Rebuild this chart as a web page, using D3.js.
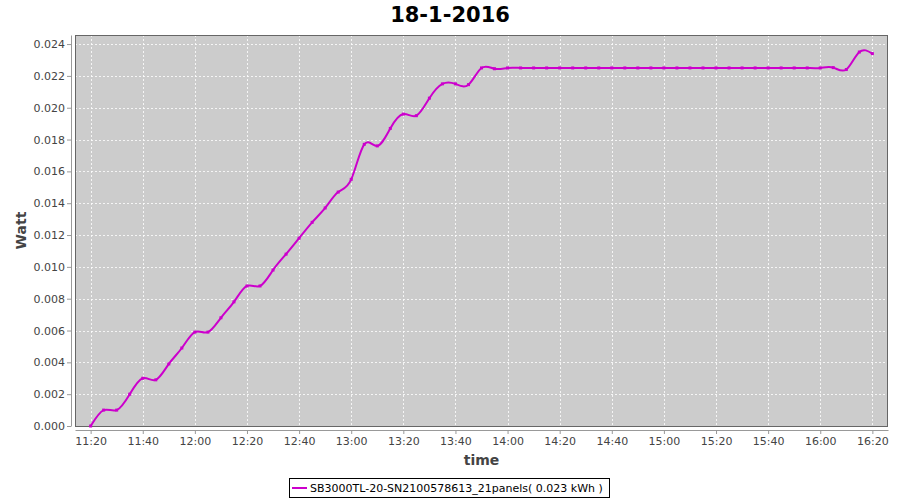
<!DOCTYPE html>
<html>
<head>
<meta charset="utf-8">
<script src="https://cdn.jsdelivr.net/npm/d3@7"></script>
<style>
  html, body { margin: 0; padding: 0; background: #ffffff; }
  svg { display: block; }
  text { font-family: "DejaVu Sans", sans-serif; }
</style>
</head>
<body>
<svg id="chart" width="900" height="500"></svg>
<script>
// ---- data ----
const chartTitle = "18-1-2016";
const seriesName = "SB3000TL-20-SN2100578613_21panels( 0.023 kWh )";
const times = [
  "11:20","11:25","11:30","11:35","11:40","11:45","11:50","11:55",
  "12:00","12:05","12:10","12:15","12:20","12:25","12:30","12:35","12:40","12:45","12:50","12:55",
  "13:00","13:05","13:10","13:15","13:20","13:25","13:30","13:35","13:40","13:45","13:50","13:55",
  "14:00","14:05","14:10","14:15","14:20","14:25","14:30","14:35","14:40","14:45","14:50","14:55",
  "15:00","15:05","15:10","15:15","15:20","15:25","15:30","15:35","15:40","15:45","15:50","15:55",
  "16:00","16:05","16:10","16:15","16:20"
];
const values = [
  0.0000,0.0010,0.0010,0.0020,0.0030,0.0029,0.0039,0.0049,
  0.0059,0.0059,0.0068,0.0078,0.0088,0.0088,0.0098,0.0108,0.0118,0.0128,0.0137,0.0147,
  0.0155,0.0177,0.0176,0.0187,0.0196,0.0195,0.0206,0.0215,0.0215,0.02145,0.0225,0.02245,
  0.0225,0.0225,0.0225,0.0225,0.0225,0.0225,0.0225,0.0225,0.0225,0.0225,0.0225,0.0225,
  0.0225,0.0225,0.0225,0.0225,0.0225,0.0225,0.0225,0.0225,0.0225,0.0225,0.0225,0.0225,
  0.0225,0.02252,0.0224,0.0235,0.0234
];
const xTickLabels = ["11:20","11:40","12:00","12:20","12:40","13:00","13:20","13:40","14:00",
  "14:20","14:40","15:00","15:20","15:40","16:00","16:20"];
const yTickValues = [0,0.002,0.004,0.006,0.008,0.010,0.012,0.014,0.016,0.018,0.020,0.022,0.024];

// ---- layout ----
const svg = d3.select("#chart");
const plot = {left: 75, right: 888, top: 35, bottom: 426};
const parse = d3.timeParse("%Y-%m-%d %H:%M");
const day = "2016-01-18 ";
const data = times.map((t, i) => ({t: parse(day + t), v: values[i]}));

const x = d3.scaleTime()
  .domain([parse(day + "11:14"), parse(day + "16:26")])
  .range([plot.left, plot.right]);
const y = d3.scaleLinear()
  .domain([0, 0.02457])
  .range([plot.bottom, plot.top]);

// background
svg.append("rect")
  .attr("x", plot.left).attr("y", plot.top)
  .attr("width", plot.right - plot.left).attr("height", plot.bottom - plot.top)
  .attr("fill", "#cccccc");

// gridlines
const xTicks = xTickLabels.map(s => parse(day + s));
svg.append("g").selectAll("line").data(xTicks).join("line")
  .attr("x1", d => Math.round(x(d)) + 0.5).attr("x2", d => Math.round(x(d)) + 0.5)
  .attr("y1", plot.top).attr("y2", plot.bottom)
  .attr("stroke", "#ffffff").attr("stroke-width", 0.8).attr("stroke-dasharray", "2,2");
svg.append("g").selectAll("line").data(yTickValues).join("line")
  .attr("x1", plot.left).attr("x2", plot.right)
  .attr("y1", d => Math.round(y(d)) + 0.5).attr("y2", d => Math.round(y(d)) + 0.5)
  .attr("stroke", "#ffffff").attr("stroke-width", 0.8).attr("stroke-dasharray", "2,2");

// plot outline
svg.append("rect")
  .attr("x", plot.left + 0.5).attr("y", plot.top + 0.5)
  .attr("width", plot.right - plot.left - 1).attr("height", plot.bottom - plot.top)
  .attr("fill", "none").attr("stroke", "#666666").attr("stroke-width", 1);

// axes
const xAxis = d3.axisBottom(x).tickValues(xTicks).tickFormat(d3.timeFormat("%H:%M"))
  .tickSizeInner(4).tickSizeOuter(0).tickPadding(3);
const gx = svg.append("g").attr("transform", `translate(0,${plot.bottom + 4})`).call(xAxis);
const yAxis = d3.axisLeft(y).tickValues(yTickValues).tickFormat(d3.format(".3f"))
  .tickSizeInner(4).tickSizeOuter(0).tickPadding(2);
const gy = svg.append("g").attr("transform", `translate(${plot.left - 4},0)`).call(yAxis);
[gx, gy].forEach(g => {
  g.select(".domain").attr("stroke", "#999999");
  g.selectAll(".tick line").attr("stroke", "#999999");
  g.selectAll(".tick text").attr("fill", "#444444")
    .style("font-family", "'DejaVu Sans', sans-serif").style("font-size", "11px");
});

// line
const line = d3.line().x(d => x(d.t)).y(d => y(d.v)).curve(d3.curveNatural);
svg.append("path").datum(data)
  .attr("d", line)
  .attr("fill", "none").attr("stroke", "#cc00cc").attr("stroke-width", 2);
svg.append("g").selectAll("rect").data(data).join("rect")
  .attr("x", d => x(d.t) - 1.5).attr("y", d => y(d.v) - 1.5)
  .attr("width", 3).attr("height", 3).attr("fill", "#cc00cc");

// title & axis labels
svg.append("text").attr("x", 450).attr("y", 22).attr("text-anchor", "middle")
  .style("font-size", "21px").style("font-weight", "bold").attr("fill", "#000")
  .text(chartTitle);
svg.append("text").attr("x", (plot.left + plot.right) / 2).attr("y", 465)
  .attr("text-anchor", "middle").style("font-size", "14px").style("font-weight", "bold")
  .attr("fill", "#444444").text("time");
svg.append("text").attr("transform", `translate(26,${(plot.top + plot.bottom) / 2}) rotate(-90)`)
  .attr("text-anchor", "middle").style("font-size", "14px").style("font-weight", "bold")
  .attr("fill", "#444444").text("Watt");

// legend
const lg = svg.append("g");
lg.append("rect").attr("x", 289.5).attr("y", 478.5).attr("width", 320).attr("height", 19)
  .attr("fill", "#ffffff").attr("stroke", "#000000").attr("stroke-width", 1);
lg.append("line").attr("x1", 292).attr("x2", 307).attr("y1", 488).attr("y2", 488)
  .attr("stroke", "#cc00cc").attr("stroke-width", 2);
lg.append("text").attr("x", 310).attr("y", 492).style("font-size", "11px")
  .attr("fill", "#000000").text(seriesName);
</script>
</body>
</html>
